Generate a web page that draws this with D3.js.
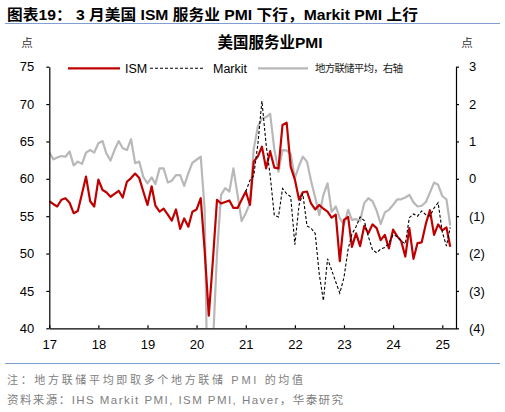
<!DOCTYPE html>
<html>
<head>
<meta charset="utf-8">
<script src="https://cdn.jsdelivr.net/npm/d3@7"></script>
<style>
  body { margin: 0; background: #fff; }
  svg text { font-family: "Liberation Sans", Arial, "Noto Sans CJK SC", sans-serif; }
</style>
</head>
<body>
<div id="chart"></div>
<script>
// ISM services PMI, monthly Jan 2017 - Mar 2025 (left axis)
const ismValues = [
  57.0, 56.6, 56.3, 57.2, 57.4, 56.8, 55.4, 55.7, 58.0, 60.3, 57.0, 56.3,
  59.9, 58.5, 58.2, 57.6, 58.0, 58.4, 57.5, 59.6, 60.1, 60.7, 60.1, 58.3,
  56.5, 59.0, 56.4, 55.6, 56.0, 55.2, 54.4, 55.9, 53.3, 54.7, 53.6, 55.6,
  55.9, 57.4, 50.5, 41.7, 49.0, 57.2, 56.7, 56.9, 57.1, 56.1, 56.1, 57.2,
  58.3, 56.5, 62.3, 63.0, 64.3, 61.4, 63.7, 61.5, 61.4, 67.2, 67.5, 61.6,
  59.9, 57.2, 58.2, 58.3, 56.7, 55.9, 56.5, 56.0, 55.6, 54.8, 55.2, 49.0,
  54.5, 54.9, 50.9, 52.7, 51.0, 53.7, 52.7, 53.9, 53.4, 51.8, 52.5, 50.7,
  53.2, 52.3, 51.7, 49.6, 53.4, 49.3, 51.4, 51.5, 54.0, 55.8, 52.5, 53.9,
  53.1, 53.5, 50.9
];

// Markit services PMI, monthly Jan 2021 - Mar 2025 (left axis)
const markitValues = [
  58.3, 59.8, 60.4, 64.7, 70.4, 64.6, 60.5, 55.1, 54.9, 58.7, 58.0, 57.6,
  51.2, 56.5, 58.0, 53.7, 53.4, 52.7, 47.3, 43.7, 49.3, 47.8, 46.2, 44.7,
  46.8, 50.6, 52.6, 53.6, 54.9, 54.4, 52.3, 50.5, 50.1, 50.6, 50.8, 51.4,
  52.5, 52.3, 51.7, 51.3, 54.8, 55.3, 55.0, 55.7, 55.2, 55.0, 56.1, 56.8,
  52.9, 51.0, 53.5
];

// regional Fed average, monthly Jan 2017 - Mar 2025 (right axis)
const fedAvgValues = [
  0.70, 0.52, 0.57, 0.61, 0.59, 0.73, 0.36, 0.46, 0.40, 0.70, 0.77, 0.70,
  0.95, 1.01, 0.68, 0.49, 0.77, 1.01, 0.82, 0.77, 1.06, 0.42, 0.46, 0.05,
  -0.12, 0.04, -0.14, 0.28, 0.28, -0.10, -0.05, 0.10, 0.10, -0.19, 0.15, 0.43,
  0.51, 0.59, -0.80, -8.00, -4.50, -2.00, -0.43, -0.25, -0.34, 0.28, -0.43, -1.13,
  -0.92, -0.65, 0.80, 1.40, 1.62, 1.65, 1.74, 0.80, 0.19, 0.77, 0.76, 0.66,
  0.02, 0.35, 0.59, 0.46, -0.05, -0.50, -0.97, -0.43, -0.12, -0.88, -0.74, -1.05,
  -1.23, -0.83, -1.10, -1.08, -1.12, -0.65, -0.52, -0.60, -0.85, -1.21, -0.90, -0.83,
  -0.70, -0.55, -0.55, -0.50, -0.43, -0.63, -0.74, -0.72, -0.62, -0.37, -0.10, -0.16,
  -0.46, -0.55, -1.25
];

const yearLabels = ["17", "18", "19", "20", "21", "22", "23", "24", "25"];
const leftTicks = [40, 45, 50, 55, 60, 65, 70, 75];
const rightTicks = [-4, -3, -2, -1, 0, 1, 2, 3];
const legendNames = ["ISM", "Markit", "地方联储平均，右轴"];

const W = 505, H = 412;
const plot = { left: 49.3, right: 456, top: 66.7, bottom: 328.3 };

const monthDate = (y0, m0, i) => new Date(y0, m0 + i, 1);
const ism = ismValues.map((v, i) => ({ date: monthDate(2017, 0, i), v }));
const markit = markitValues.map((v, i) => ({ date: monthDate(2021, 0, i), v }));
const fedAvg = fedAvgValues.map((v, i) => ({ date: monthDate(2017, 0, i), v }));

const svg = d3.select("#chart").append("svg")
    .attr("width", W)
    .attr("height", H);

const x = d3.scaleTime()
    .domain([new Date(2017, 0, 1), new Date(2025, 3, 13)])
    .range([plot.left, plot.right]);

const yL = d3.scaleLinear().domain([40, 75]).range([plot.bottom, plot.top]);
const yR = d3.scaleLinear().domain([-4, 3]).range([plot.bottom, plot.top]);

// header
svg.append("text")
    .attr("x", 7).attr("y", 20)
    .attr("font-size", 15).attr("font-weight", "bold")
    .attr("textLength", 411).attr("lengthAdjust", "spacingAndGlyphs")
    .text("图表19：  3 月美国 ISM 服务业 PMI 下行，Markit PMI 上行");

svg.append("line")
    .attr("x1", 5).attr("x2", 500).attr("y1", 23.5).attr("y2", 23.5)
    .attr("stroke", "#7f9fd0").attr("stroke-width", 1);

svg.append("text")
    .attr("x", 270).attr("y", 48)
    .attr("text-anchor", "middle")
    .attr("font-size", 15.5).attr("font-weight", "bold")
    .text("美国服务业PMI");

svg.append("text").attr("x", 27).attr("y", 46.5)
    .attr("text-anchor", "middle").attr("font-size", 11.5).attr("fill", "#333")
    .text("点");
svg.append("text").attr("x", 467).attr("y", 46.5)
    .attr("text-anchor", "middle").attr("font-size", 11.5).attr("fill", "#333")
    .text("点");

// lines
svg.append("clipPath").attr("id", "plot-clip")
  .append("rect")
    .attr("x", plot.left).attr("y", plot.top)
    .attr("width", plot.right - plot.left)
    .attr("height", plot.bottom - plot.top);

const g = svg.append("g").attr("clip-path", "url(#plot-clip)");

const lineL = d3.line().x(d => x(d.date)).y(d => yL(d.v));
const lineR = d3.line().x(d => x(d.date)).y(d => yR(d.v));

g.append("path").datum(fedAvg)
    .attr("d", lineR)
    .attr("fill", "none").attr("stroke", "#b8b8b8").attr("stroke-width", 2.2)
    .attr("stroke-linejoin", "round");

g.append("path").datum(ism)
    .attr("d", lineL)
    .attr("fill", "none").attr("stroke", "#c00000").attr("stroke-width", 2.2)
    .attr("stroke-linejoin", "round");

g.append("path").datum(markit)
    .attr("d", lineL)
    .attr("fill", "none").attr("stroke", "#000").attr("stroke-width", 1.1)
    .attr("stroke-dasharray", "3,2");

// axes
const axisL = svg.append("g")
    .attr("transform", `translate(${plot.left},0)`)
    .call(d3.axisLeft(yL).tickValues(leftTicks).tickSize(3).tickSizeOuter(0).tickPadding(12));

const axisR = svg.append("g")
    .attr("transform", `translate(${plot.right},0)`)
    .call(d3.axisRight(yR).tickValues(rightTicks).tickSize(3).tickSizeOuter(0).tickPadding(10)
      .tickFormat(d => d < 0 ? `(${-d})` : d));

const axisB = svg.append("g")
    .attr("transform", `translate(0,${plot.bottom})`)
    .call(d3.axisBottom(x)
      .tickValues(yearLabels.map((s, i) => new Date(2017 + i, 0, 1)))
      .tickSize(-3).tickSizeOuter(0).tickPadding(11)
      .tickFormat((d, i) => yearLabels[i]));

[axisL, axisR, axisB].forEach(a => {
  a.selectAll("path, line").attr("stroke", "#000").attr("stroke-width", 1.2);
  a.selectAll("text").attr("font-size", 13).attr("fill", "#000")
    .attr("font-family", "Liberation Sans, Arial, sans-serif");
});

// legend
const legY = 68.3;
const legend = svg.append("g");
legend.append("line").attr("x1", 68).attr("x2", 120).attr("y1", legY).attr("y2", legY)
    .attr("stroke", "#c00000").attr("stroke-width", 2.2);
legend.append("text").attr("x", 125).attr("y", legY + 4.5).attr("font-size", 12.5)
    .text(legendNames[0]);
legend.append("line").attr("x1", 150).attr("x2", 205).attr("y1", legY).attr("y2", legY)
    .attr("stroke", "#000").attr("stroke-width", 1.1).attr("stroke-dasharray", "3,2");
legend.append("text").attr("x", 213).attr("y", legY + 4.5).attr("font-size", 12.5)
    .text(legendNames[1]);
legend.append("line").attr("x1", 258).attr("x2", 308).attr("y1", legY).attr("y2", legY)
    .attr("stroke", "#b8b8b8").attr("stroke-width", 2.2);
legend.append("text").attr("x", 315).attr("y", legY + 4).attr("font-size", 10.5)
    .attr("textLength", 88).attr("lengthAdjust", "spacing")
    .attr("font-family", "Noto Sans CJK SC, sans-serif").attr("fill", "#222")
    .text(legendNames[2]);

// footer
svg.append("line")
    .attr("x1", 5).attr("x2", 500).attr("y1", 363.5).attr("y2", 363.5)
    .attr("stroke", "#7f9fd0").attr("stroke-width", 1);

svg.append("text")
    .attr("x", 7).attr("y", 384)
    .attr("font-size", 11).attr("fill", "#808080")
    .attr("textLength", 296).attr("lengthAdjust", "spacing")
    .text("注：地方联储平均即取多个地方联储 PMI 的均值");

svg.append("text")
    .attr("x", 7).attr("y", 404)
    .attr("font-size", 11.5).attr("fill", "#808080")
    .attr("textLength", 336).attr("lengthAdjust", "spacing")
    .text("资料来源：IHS Markit PMI, ISM PMI, Haver，华泰研究");
</script>
</body>
</html>
